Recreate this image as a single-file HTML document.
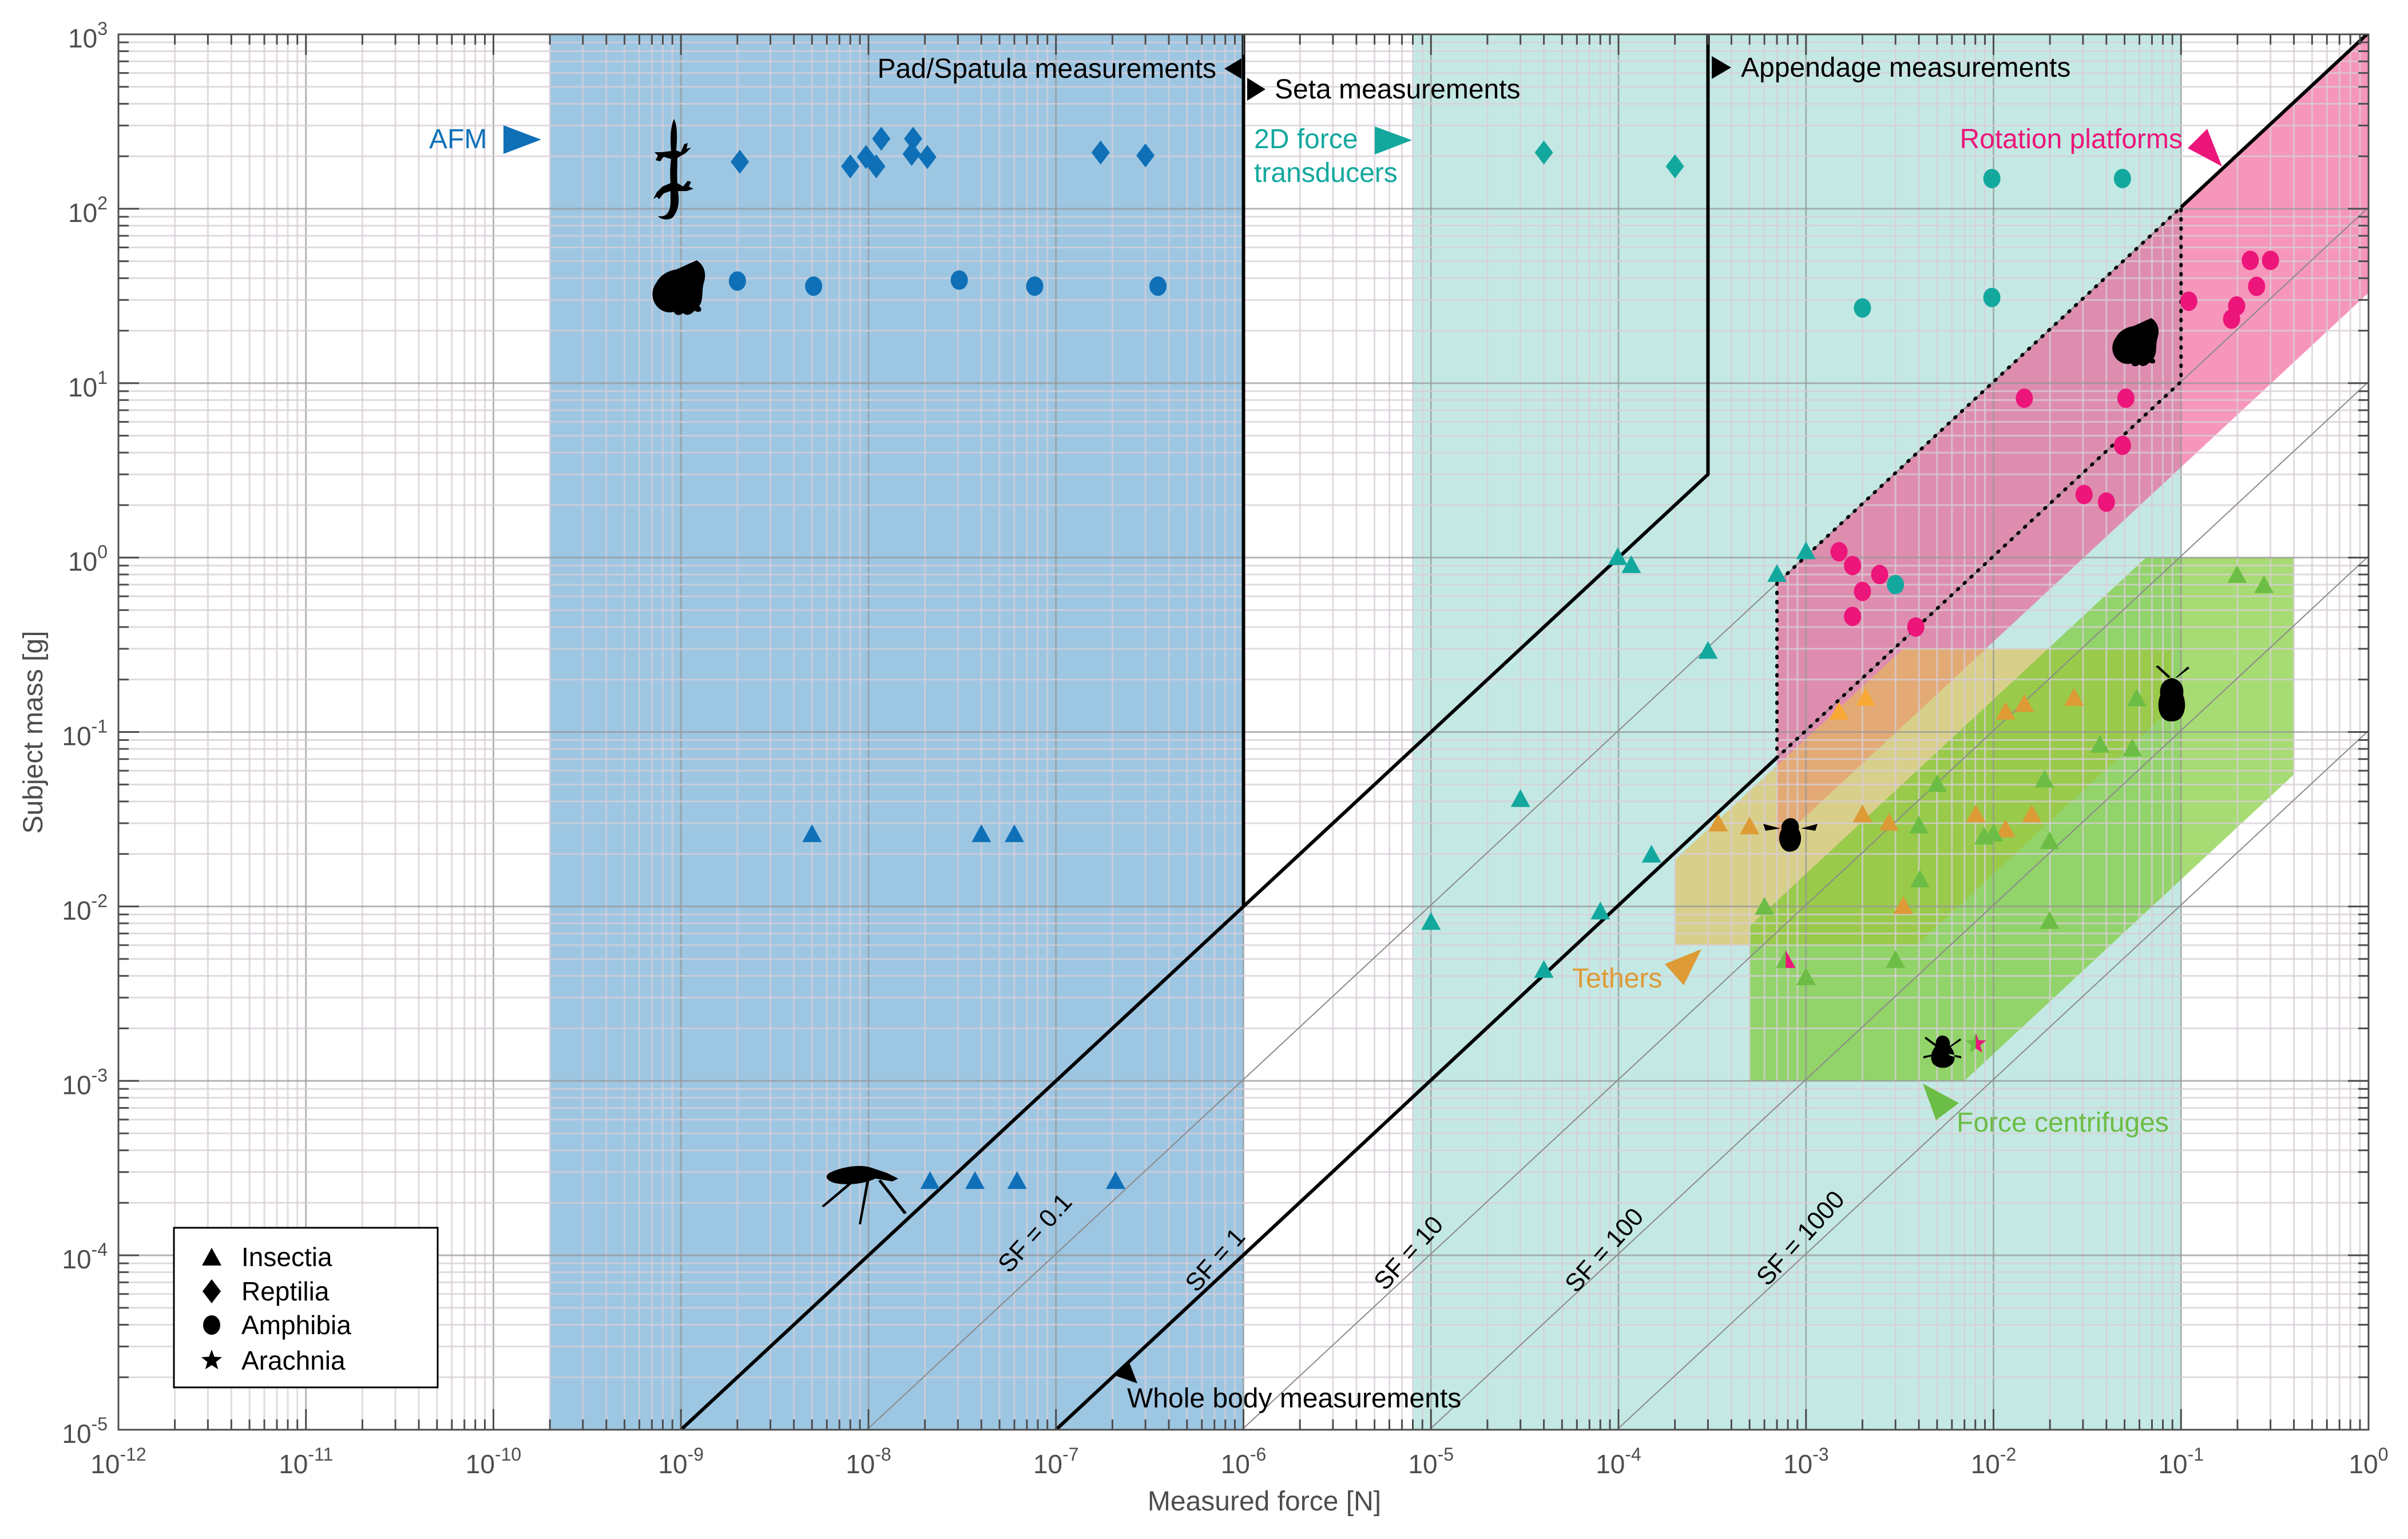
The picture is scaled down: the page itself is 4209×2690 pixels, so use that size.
<!DOCTYPE html>
<html><head><meta charset="utf-8"><style>
html,body{margin:0;padding:0;background:#fff;}
svg{display:block;font-family:"Liberation Sans",Arial,sans-serif;}
</style></head><body>
<svg id="chart" width="4209" height="2690" viewBox="0 0 4209 2690" xmlns="http://www.w3.org/2000/svg">
<defs>
<clipPath id="plotclip"><rect x="207" y="60" width="3933" height="2439"/></clipPath>
</defs>
<rect x="0" y="0" width="4209" height="2690" fill="#fff"/>
<g id="fills" clip-path="url(#plotclip)"></g>
<g id="grid" clip-path="url(#plotclip)"></g>
<g id="lines" clip-path="url(#plotclip)"></g>
<g id="marks" clip-path="url(#plotclip)"></g>
<g id="sil"></g>
<g id="annot"></g>
<g id="axes"></g>
<g id="legend"></g>
</svg>
<script>
// ---- data arrays ----
const sfValues = [0.1, 1, 10, 100, 1000];
const sfLabels = ["SF = 0.1","SF = 1","SF = 10","SF = 100","SF = 1000"];
const xTickExps = [-12,-11,-10,-9,-8,-7,-6,-5,-4,-3,-2,-1,0];
const yTickExps = [-5,-4,-3,-2,-1,0,1,2,3];

const afmReptF = [2.06e-9,8.0e-9,9.7e-9,1.1e-8,1.17e-8,1.73e-8,1.7e-8,2.06e-8,1.73e-7,3.0e-7];
const afmReptM = [186,175,198,175,252,252,206,198,210,202];
const afmAmphF = [2.0e-9,5.1e-9,3.05e-8,7.7e-8,3.5e-7];
const afmAmphM = [38.5,36,39,36,36];
const afmInsF = [5.0e-9,4.0e-8,6.0e-8,2.13e-8,3.7e-8,6.2e-8,2.08e-7];
const afmInsM = [0.0258,0.0258,0.0258,2.65e-4,2.65e-4,2.65e-4,2.65e-4];

const tdReptF = [4e-5,2e-4];
const tdReptM = [210,175];
const tdAmphF = [9.8e-3,0.0487,2.0e-3,9.8e-3,3.0e-3];
const tdAmphM = [149,149,27,31,0.70];
const tdInsF = [9.9e-5,1.17e-4,7e-4,1e-3,3e-4,3e-5,1.5e-4,1e-5,8e-5,4e-5];
const tdInsM = [1.0,0.9,0.80,1.08,0.29,0.041,0.0197,0.0081,0.0093,0.0043];

const rotAmphF = [1.5e-3,1.77e-3,2.47e-3,2.0e-3,1.77e-3,3.85e-3,0.234,0.30,0.253,0.11,0.198,0.186,0.0146,0.0508,0.0487,0.0304,0.040];
const rotAmphM = [1.08,0.90,0.80,0.64,0.46,0.40,50.6,50.6,35.9,29.5,27.7,23.3,8.2,8.2,4.4,2.3,2.08];

const tethInsF = [3.4e-4,5e-4,0.0116,0.0146,0.0269,2.0e-3,2.77e-3,8.05e-3,0.0116,0.016,3.3e-3];
const tethInsM = [0.0297,0.0286,0.13,0.144,0.156,0.0335,0.030,0.0335,0.0275,0.0335,0.01];
const tethLightF = [1.5e-3,2.08e-3];
const tethLightM = [0.13,0.156];

const cenInsF = [0.199,0.277,0.058,0.037,0.055,0.0187,5.0e-3,4.0e-3,8.9e-3,0.01,0.0199,4.05e-3,6e-4,0.0199,3.0e-3,1e-3];
const cenInsM = [0.79,0.69,0.155,0.084,0.080,0.053,0.050,0.0289,0.025,0.026,0.0235,0.0142,0.0099,0.0082,0.0049,0.0039];
const mixInsF = [7.8e-4];
const mixInsM = [0.0049];
const mixStarF = [8.05e-3];
const mixStarM = [1.63e-3];

// ---- scales ----
const X0=207, X1=4140, Y0=60, Y1=2499;
function X(f){return X0+(Math.log10(f)+12)*(X1-X0)/12;}
function Y(m){return Y0+(3-Math.log10(m))*(Y1-Y0)/8;}
const NS="http://www.w3.org/2000/svg";
function mk(tag,attrs,parent){const e=document.createElementNS(NS,tag);for(const k in attrs)e.setAttribute(k,attrs[k]);parent.appendChild(e);return e;}
const gF=document.getElementById('fills'),gG=document.getElementById('grid'),gL=document.getElementById('lines'),gM=document.getElementById('marks'),gS=document.getElementById('sil'),gA=document.getElementById('annot'),gX=document.getElementById('axes'),gLeg=document.getElementById('legend');
function pts(arr){return arr.map(p=>X(p[0]).toFixed(1)+','+Y(p[1]).toFixed(1)).join(' ');}

// ---- region fills ----
let e;
e=mk('rect',{x:X(2e-10),y:Y0,width:X(1e-6)-X(2e-10),height:Y1-Y0,fill:'#9dc6e2'},gF);

e=mk('rect',{x:X(8e-6),y:Y0,width:X(0.1)-X(8e-6),height:Y1-Y0,fill:'#c4e9e4'},gF);

e=mk('polygon',{points:pts([[7e-4,7e-4*1019],[1,1019],[1,33],[7e-4,7e-4*33]]),fill:'rgb(240,80,140)','fill-opacity':0.6},gF);

e=mk('polygon',{points:pts([[2e-4,0.006],[3.9e-3,0.006],[0.089,0.137],[0.089,0.3],[3.3e-3,0.3],[2e-4,0.0185]]),fill:'rgb(230,190,80)','fill-opacity':0.6},gF);

e=mk('polygon',{points:pts([[5e-4,1e-3],[7e-3,1e-3],[0.4,0.057],[0.4,1],[0.065,1],[5e-4,0.0077]]),fill:'rgb(120,200,40)','fill-opacity':0.65},gF);


// ---- grid ----
for(let d=-12;d<0;d++){for(let k=1;k<10;k++){const v=k*Math.pow(10,d);const x=X(v);
 e=mk('line',{x1:x,y1:Y0,x2:x,y2:Y1,stroke:k==1?'rgba(150,150,150,0.7)':'rgba(215,205,215,0.75)','stroke-width':3},gG);
 }}
for(let d=-5;d<3;d++){for(let k=1;k<10;k++){const v=k*Math.pow(10,d);const y=Y(v);
 e=mk('line',{x1:X0,y1:y,x2:X1,y2:y,stroke:k==1?'rgba(150,150,150,0.7)':'rgba(215,205,215,0.75)','stroke-width':3},gG);
 }}

// ---- SF lines ----
sfValues.forEach((sf,i)=>{const c=1000/(9.81*sf);const f0=1e-5/c, f1=1e3/c;
 e=mk('line',{x1:X(f0),y1:Y(1e-5),x2:X(f1),y2:Y(1e3),stroke:'#8a8a8a','stroke-width':2},gL);
 });
e=mk('polyline',{points:pts([[1e-9,1e-5],[3e-4,3],[3e-4,1e3]]),fill:'none',stroke:'#000','stroke-width':6},gL);

e=mk('polyline',{points:pts([[1e-6,1e-2],[1e-6,1e3]]),fill:'none',stroke:'#000','stroke-width':6},gL);

e=mk('polyline',{points:pts([[1e-7,1e-5],[7e-4,0.0714]]),fill:'none',stroke:'#000','stroke-width':6},gL);

e=mk('line',{x1:X(0.1),y1:Y(102),x2:X(1.02),y2:Y(1040),stroke:'#000','stroke-width':6},gL);

e=mk('polygon',{points:pts([[7e-4,0.713],[7e-4,0.0714],[0.1,10.2],[0.1,102]]),fill:'none',stroke:'#000','stroke-width':6,'stroke-dasharray':'2 14','stroke-linecap':'round'},gL);


// ---- markers ----
function tri(x,y,fill,parent){return mk('polygon',{points:`${x},${y-18} ${x-17},${y+13} ${x+17},${y+13}`,fill:fill},parent);}
function dia(x,y,fill,parent){return mk('polygon',{points:`${x},${y-21} ${x+16},${y} ${x},${y+21} ${x-16},${y}`,fill:fill},parent);}
function cir(x,y,fill,parent){return mk('ellipse',{cx:x,cy:y,rx:15,ry:17,fill:fill},parent);}
function star(x,y,fill,parent){let p=[];for(let i=0;i<10;i++){const r=i%2?8:19;const a=-Math.PI/2+i*Math.PI/5;p.push((x+r*Math.cos(a)).toFixed(1)+','+(y+r*Math.sin(a)).toFixed(1));}return mk('polygon',{points:p.join(' '),fill:fill},parent);}
const BLUE='#0f70b7',TEAL='#13a89e',PINK='#ec157a',ORANGE='#dd9a35',LORANGE='#f8a834',GREEN='#6cbd45';
afmReptF.forEach((f,i)=>{e=dia(X(f),Y(afmReptM[i]),BLUE,gM);});
afmAmphF.forEach((f,i)=>{e=cir(X(f),Y(afmAmphM[i]),BLUE,gM);});
afmInsF.forEach((f,i)=>{e=tri(X(f),Y(afmInsM[i]),BLUE,gM);});
tdReptF.forEach((f,i)=>{e=dia(X(f),Y(tdReptM[i]),TEAL,gM);});
tdAmphF.forEach((f,i)=>{e=cir(X(f),Y(tdAmphM[i]),TEAL,gM);});
tdInsF.forEach((f,i)=>{e=tri(X(f),Y(tdInsM[i]),TEAL,gM);});
rotAmphF.forEach((f,i)=>{e=cir(X(f),Y(rotAmphM[i]),PINK,gM);});
tethInsF.forEach((f,i)=>{e=tri(X(f),Y(tethInsM[i]),ORANGE,gM);});
tethLightF.forEach((f,i)=>{e=tri(X(f),Y(tethLightM[i]),LORANGE,gM);});
cenInsF.forEach((f,i)=>{e=tri(X(f),Y(cenInsM[i]),GREEN,gM);});
mixInsF.forEach((f,i)=>{const x=X(f),y=Y(mixInsM[i]);
 e=mk('polygon',{points:`${x},${y-18} ${x-17},${y+13} ${x},${y+13}`,fill:GREEN},gM);
 e=mk('polygon',{points:`${x},${y-18} ${x+17},${y+13} ${x},${y+13}`,fill:PINK},gM);});
mixStarF.forEach((f,i)=>{const x=X(f),y=Y(mixStarM[i]);
 e=star(x,y,GREEN,gM);
 e=mk('clipPath',{id:'halfclip'+i},gM);mk('rect',{x:x,y:y-25,width:25,height:50},e);
 e=star(x,y,PINK,gM);e.setAttribute('clip-path','url(#halfclip'+i+')');});

// ---- annotations ----
function txt(s,x,y,opt,parent){const t=mk('text',Object.assign({x:x,y:y,'font-size':48,fill:'#000'},opt||{}),parent);t.textContent=s;return t;}
e=txt('Pad/Spatula measurements',2126,136,{'text-anchor':'end'},gA);
e=mk('polygon',{points:'2140,120 2170,102 2170,138'},gA);
e=txt('Seta measurements',2228,172,{},gA);
e=mk('polygon',{points:'2180,136 2212,156 2180,176'},gA);
e=txt('Appendage measurements',3043,134,{},gA);
e=mk('polygon',{points:'2992,98 3026,118 2992,138'},gA);
e=txt('Whole body measurements',1970,2460,{},gA);
e=mk('polygon',{points:'1948,2404 1973,2379 1988,2418'},gA);
e=txt('AFM',750,259,{fill:BLUE},gA);
e=mk('polygon',{points:'880,219 946,244 880,269',fill:BLUE},gA);
e=txt('2D force',2192,259,{fill:TEAL},gA);
e=txt('transducers',2192,318,{fill:TEAL},gA);
e=mk('polygon',{points:'2403,221 2468,245 2403,270',fill:TEAL},gA);
e=txt('Rotation platforms',3815,259,{fill:PINK,'text-anchor':'end'},gA);
e=mk('polygon',{points:'3824,259 3858,225 3884,291',fill:PINK},gA);
e=txt('Tethers',2748,1726,{fill:ORANGE},gA);
e=mk('polygon',{points:'2910,1685 2974,1659 2943,1722',fill:ORANGE},gA);
e=txt('Force centrifuges',3420,1978,{fill:GREEN},gA);
e=mk('polygon',{points:'3361,1894 3424,1928 3384,1958',fill:GREEN},gA);
const sfLabelPos=[[1820,2165],[2135,2212],[2473,2200],[2815,2195],[3158,2174]];
sfLabels.forEach((s,i)=>{const p=sfLabelPos[i];
 e=txt(s,p[0],p[1],{'font-size':44,'text-anchor':'middle',transform:`rotate(-48 ${p[0]} ${p[1]})`},gA);
 });

// ---- silhouettes (simplified) ----
function sil(d,name,tr){const p=mk('path',{d:d,fill:'#000'},gS);if(tr)p.setAttribute('transform',tr);return p;}
// gecko: local box 100 wide x 180 tall
const geckoD='M50,0 C56,10 56,30 54,55 L62,58 L68,44 L74,42 L72,52 L80,50 L70,60 L56,68 C56,85 55,98 56,112 L66,118 L74,108 L80,110 L76,118 L84,122 L72,126 L57,126 C60,145 58,160 48,172 C40,178 28,176 22,170 L28,170 C38,170 44,160 44,145 L44,126 L32,130 L24,140 L20,136 L14,140 L20,128 L30,118 L44,112 C43,98 43,84 45,70 L32,66 L26,74 L18,72 L22,64 L16,58 L28,58 L45,56 C43,34 44,14 50,0 Z';
sil(geckoD,'gecko-silhouette','translate(1128,208)');
// frog: local box 100 x 95
const frogD='M80,0 C92,8 98,22 92,40 C88,55 92,70 84,80 C92,86 86,94 76,88 C70,95 62,98 56,92 C50,98 42,96 40,90 C26,94 12,86 6,74 C0,62 2,48 10,38 C16,26 30,18 44,16 C58,10 70,4 80,0 Z';
sil(frogD,'frog-silhouette','translate(1138,455)');
sil(frogD,'frog-silhouette-2','translate(3690,556) scale(0.88)');
sil('M1450,2050 C1470,2040 1500,2035 1520,2040 L1550,2050 L1570,2060 L1560,2065 L1530,2060 C1510,2070 1480,2072 1460,2068 C1445,2064 1440,2056 1450,2050 Z M1500,2060 L1440,2110 L1436,2108 L1495,2058 Z M1520,2060 L1505,2140 L1501,2140 L1515,2060 Z M1540,2062 L1585,2120 L1580,2122 L1535,2064 Z','mosquito-silhouette');
sil('M3130,1430 C3140,1430 3146,1440 3144,1450 C3150,1460 3150,1475 3140,1485 C3132,1490 3124,1490 3118,1485 C3108,1475 3108,1460 3114,1450 C3112,1440 3120,1430 3130,1430 Z M3112,1448 L3082,1440 L3086,1452 Z M3148,1448 L3177,1440 L3173,1452 Z','bee-silhouette');
sil('M3796,1185 C3812,1188 3818,1200 3816,1215 C3822,1230 3820,1250 3808,1258 C3800,1262 3790,1262 3784,1258 C3772,1250 3770,1230 3776,1215 C3774,1200 3780,1188 3796,1185 Z M3790,1185 L3768,1165 L3772,1163 L3794,1183 Z M3802,1185 L3824,1165 L3827,1168 L3806,1184 Z','beetle-silhouette');
sil('M3395,1810 C3405,1810 3410,1820 3408,1828 C3418,1838 3420,1855 3410,1862 C3402,1868 3390,1868 3382,1862 C3372,1855 3374,1838 3384,1828 C3382,1820 3386,1810 3395,1810 Z M3384,1830 L3364,1815 L3366,1812 L3388,1828 Z M3406,1830 L3426,1815 L3428,1818 L3404,1834 Z M3382,1845 L3362,1850 L3362,1846 L3384,1842 Z M3408,1845 L3428,1850 L3428,1846 L3406,1842 Z','tick-silhouette');

// ---- axes ----
e=mk('rect',{x:X0,y:Y0,width:X1-X0,height:Y1-Y0,fill:'none',stroke:'#4d4d4d','stroke-width':3},gX);

for(let d=-12;d<=0;d++){for(let k=1;k<10;k++){if(d==0&&k>1)break;const x=X(k*Math.pow(10,d));const L=k==1?36:18;
 mk('line',{x1:x,y1:Y1,x2:x,y2:Y1-L,stroke:'#4d4d4d','stroke-width':3},gX);
 mk('line',{x1:x,y1:Y0,x2:x,y2:Y0+L,stroke:'#4d4d4d','stroke-width':3},gX);}}
for(let d=-5;d<=3;d++){for(let k=1;k<10;k++){if(d==3&&k>1)break;const y=Y(k*Math.pow(10,d));const L=k==1?36:18;
 mk('line',{x1:X0,y1:y,x2:X0+L,y2:y,stroke:'#4d4d4d','stroke-width':3},gX);
 mk('line',{x1:X1,y1:y,x2:X1-L,y2:y,stroke:'#4d4d4d','stroke-width':3},gX);}}
xTickExps.forEach(n=>{const x=X(Math.pow(10,n));
 const t=mk('text',{x:x,y:2575,'font-size':46,fill:'#4d4d4d','text-anchor':'middle'},gX);
 
 t.appendChild(document.createTextNode('10'));const s=mk('tspan',{dy:-22,'font-size':32},t);s.textContent=String(n);});
yTickExps.forEach(n=>{const y=Y(Math.pow(10,n));
 const t=mk('text',{x:188,y:y+23,'font-size':46,fill:'#4d4d4d','text-anchor':'end'},gX);
 
 t.appendChild(document.createTextNode('10'));const s=mk('tspan',{dy:-22,'font-size':32},t);s.textContent=String(n);});
e=txt('Measured force [N]',2210,2640,{'text-anchor':'middle',fill:'#4d4d4d','font-size':48},gX);

e=txt('Subject mass [g]',74,1280,{'text-anchor':'middle',fill:'#4d4d4d','font-size':48,transform:'rotate(-90 74 1280)'},gX);


// ---- legend ----
e=mk('rect',{x:304,y:2146,width:461,height:279,fill:'#fff',stroke:'#000','stroke-width':3},gLeg);

const legNames=['Insectia','Reptilia','Amphibia','Arachnia'];
const legY=[2197,2257,2316,2378];
legNames.forEach((n,i)=>{const y=legY[i];let m;
 if(i==0)m=tri(370,y+2,'#000',gLeg);else if(i==1)m=dia(370,y,'#000',gLeg);else if(i==2)m=cir(370,y,'#000',gLeg);else m=star(370,y,'#000',gLeg);
 
 const t=txt(n,422,y+16,{'font-size':46},gLeg);});
</script>
</body></html>
